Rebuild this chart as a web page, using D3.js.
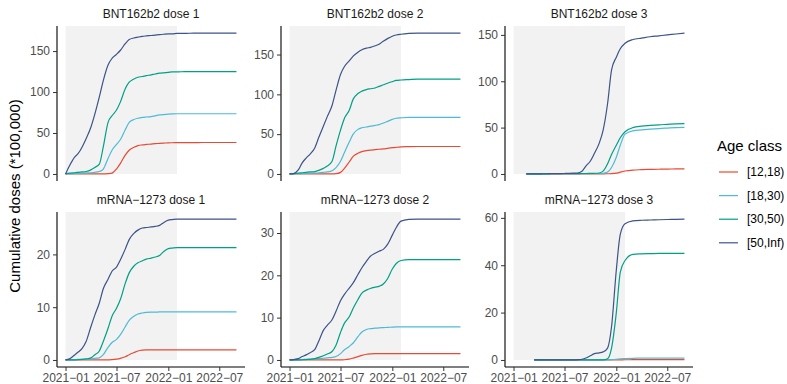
<!DOCTYPE html>
<html>
<head>
<meta charset="utf-8">
<script src="https://cdn.jsdelivr.net/npm/d3@7"></script>
<style>
  body { margin: 0; background: #fff; }
  svg text { font-family: "Liberation Sans", Arial, sans-serif; }
</style>
</head>
<body>
<div id="chart"></div>
<script>
// dates shared by all series
const dates = ["2021-01-01","2021-01-15","2021-02-01","2021-02-15","2021-03-01","2021-03-15",
  "2021-04-01","2021-04-15","2021-05-01","2021-05-15","2021-06-01","2021-06-15","2021-07-01",
  "2021-07-15","2021-08-01","2021-08-15","2021-09-01","2021-09-15","2021-10-01","2021-10-15",
  "2021-11-01","2021-11-15","2021-12-01","2021-12-15","2022-01-01","2022-01-15","2022-02-01",
  "2022-03-01","2022-04-01","2022-05-01","2022-06-01","2022-07-01","2022-08-01","2022-08-31"];

const ageClasses = ["[12,18)", "[18,30)", "[30,50)", "[50,Inf)"];
const colors = ["#E64B35", "#4DBBD5", "#00A087", "#3C5488"];
const panelTitles = ["BNT162b2 dose 1", "BNT162b2 dose 2", "BNT162b2 dose 3",
  "mRNA\u22121273 dose 1", "mRNA\u22121273 dose 2", "mRNA\u22121273 dose 3"];
const yTicks = [[0,50,100,150],[0,50,100,150],[0,50,100,150],[0,10,20],[0,10,20,30],[0,20,40,60]];
const xTicks = ["2021-01-01","2021-07-01","2022-01-01","2022-07-01"];
const shadeRange = ["2021-01-01", "2022-02-01"];

// BNT162b2 dose 1
const bnt1_a = [0,0,0,0,0,0,0,0,0,0,0.3,1,6,13,23,29,32.5,34.5,35.5,36,36.5,37,37.3,37.6,38,38.1,38.2,38.3,38.3,38.4,38.4,38.4,38.4,38.4];
const bnt1_b = [0,0.3,0.5,0.7,1,1.2,1.5,2,3,6,19,29,36,42,54,63,66.5,68,69,69.5,70,71,72,72.5,73,73.3,73.5,73.5,73.5,73.5,73.5,73.5,73.5,73.5];
const bnt1_c = [0,1,1.5,2,2.5,3,5,8,12,33,63,71,78,88,104,112,116,118,119,120,121,122,123,123.5,124,124.5,124.5,125,125,125,125,125,125,125];
const bnt1_d = [0,10,20,25,33,43,57,73,94,114,133,141,146,151,159,164,166,167,168,168.5,169,169.5,170,170.5,171,171,171.5,171.5,172,172,172,172,172,172];
// BNT162b2 dose 2
const bnt2_a = [0,0,0,0,0,0,0,0,0,0,0,0.3,2,7,15,22,26,28,29.3,30,30.5,31,31.5,32.2,33,33.5,34,34.3,34.5,34.5,34.5,34.5,34.5,34.5];
const bnt2_b = [0,0.2,0.4,0.6,0.8,1,1.2,1.5,2,2.5,4,8,16,27,40,50,56,58,59,60,61,62,64,66,68.5,70,70.5,71,71,71,71,71,71,71];
const bnt2_c = [0,0.5,1,1.5,2,2.5,3,4.5,7,10,16,35,55,70,80,94,101,104,106,107,108,110,112,114,116,117.5,118,118.5,119,119,119,119,119,119];
const bnt2_d = [0,0.5,5,14,20,25,33,46,60,72,86,105,125,135,142,148,153,156,158,159,161,163,167,170,173,174.5,175.5,176.5,177,177,177,177,177,177];
// BNT162b2 dose 3
const bnt3_a = [null,null,null,0,0,0,0,0,0,0,0,0,0,0,0,0,0,0,0,0,0,0.1,0.2,0.3,0.8,2,3.2,4.2,4.6,4.9,5.1,5.3,5.4,5.5];
const bnt3_b = [null,null,null,0,0,0,0.1,0.1,0.1,0.2,0.2,0.2,0.3,0.3,0.3,0.4,0.4,0.4,0.5,0.5,0.5,0.6,2,7,18,31,43,46.5,47.5,48.3,49,49.5,50,50.2];
const bnt3_c = [null,null,null,0,0,0,0.1,0.1,0.1,0.2,0.2,0.3,0.3,0.3,0.4,0.4,0.5,0.5,0.6,0.7,1,3,11,21,31,39,45.5,50,51.5,52.3,53,53.5,54,54.2];
const bnt3_d = [null,null,null,0,0,0.1,0.1,0.2,0.2,0.3,0.3,0.4,0.5,0.6,0.8,1,3,8.5,14,22,33,47,76,112,126,135,141,145,146.5,148,149,150,151,152];
// mRNA-1273 dose 1
const mrna1_a = [0,0,0,0,0,0,0,0,0,0,0.02,0.05,0.15,0.3,0.6,1.0,1.4,1.7,1.85,1.9,1.9,1.9,1.9,1.9,1.9,1.9,1.9,1.9,1.9,1.9,1.9,1.9,1.9,1.9];
const mrna1_b = [0,0,0.05,0.1,0.1,0.15,0.2,0.3,0.4,1,2.4,3.3,3.9,4.8,6.3,7.5,8.3,8.7,8.9,9,9.05,9.05,9.1,9.1,9.1,9.1,9.1,9.1,9.1,9.1,9.1,9.1,9.1,9.1];
const mrna1_c = [0,0,0,0.05,0.1,0.2,0.4,1,1.7,3.5,6,8.3,9.8,11.5,14.5,16.5,17.8,18.4,18.8,19.1,19.3,19.5,19.8,20.5,21.1,21.2,21.3,21.3,21.3,21.3,21.3,21.3,21.3,21.3];
const mrna1_d = [0,0.2,0.9,1.5,2.2,3.5,6.3,8.5,10.8,13.5,15.3,16.8,17.6,19,21,22.8,24,24.6,25,25.1,25.2,25.3,25.5,26,26.5,26.6,26.7,26.7,26.7,26.7,26.7,26.7,26.7,26.7];
// mRNA-1273 dose 2
const mrna2_a = [0,0,0,0,0,0,0,0,0,0,0,0,0,0.05,0.2,0.45,0.8,1.1,1.35,1.45,1.5,1.5,1.5,1.5,1.5,1.5,1.5,1.5,1.5,1.5,1.5,1.5,1.5,1.5];
const mrna2_b = [0,0,0.05,0.1,0.15,0.2,0.25,0.3,0.4,0.5,0.6,0.8,1.5,2.4,3.2,4,5.5,6.6,7.2,7.4,7.5,7.6,7.65,7.7,7.75,7.8,7.8,7.8,7.8,7.8,7.8,7.8,7.8,7.8];
const mrna2_c = [0,0,0,0.05,0.1,0.15,0.3,0.6,1,1.4,2,3.5,6.5,8.7,10.2,12.2,14.3,15.8,16.5,16.9,17.2,17.4,18,19.2,21.5,22.8,23.5,23.7,23.7,23.7,23.7,23.7,23.7,23.7];
const mrna2_d = [0,0.1,0.3,0.8,1.2,1.7,2.5,4.5,7,8.2,9.5,11.5,14,15.5,17,18.2,20.2,21.8,23.3,24.5,25.2,25.7,26.2,27.3,29.5,31.3,32.8,33.2,33.3,33.3,33.3,33.3,33.3,33.3];
// mRNA-1273 dose 3
const mrna3_a = [null,null,null,null,null,0,0,0,0,0,0,0,0,0,0,0,0,0,0,0,0,0,0,0,0.02,0.05,0.08,0.1,0.1,0.1,0.1,0.1,0.1,0.1];
const mrna3_b = [null,null,null,null,null,0,0,0,0,0,0,0,0,0,0,0,0,0,0,0,0,0,0,0.1,0.3,0.5,0.6,0.7,0.75,0.8,0.8,0.8,0.8,0.8];
const mrna3_c = [null,null,null,null,null,0,0,0,0,0,0,0,0,0,0,0,0,0,0,0,0,0,0.5,5,20,37,42,44.6,44.8,44.9,45,45,45,45];
const mrna3_d = [null,null,null,null,null,0,0,0,0,0,0,0,0,0,0,0.1,0.3,0.8,1.8,2.7,3,3.4,5,14,38,53,57.5,58.7,59,59.1,59.2,59.3,59.4,59.5];

const panelSeries = [
  [bnt1_a, bnt1_b, bnt1_c, bnt1_d],
  [bnt2_a, bnt2_b, bnt2_c, bnt2_d],
  [bnt3_a, bnt3_b, bnt3_c, bnt3_d],
  [mrna1_a, mrna1_b, mrna1_c, mrna1_d],
  [mrna2_a, mrna2_b, mrna2_c, mrna2_d],
  [mrna3_a, mrna3_b, mrna3_c, mrna3_d]
];

const width = 787, height = 384;
const colX = [57, 281, 505];
const rowY = [26, 212];
const pw = 188, ph = 155;

const parse = d3.timeParse("%Y-%m-%d");
const dts = dates.map(parse);

const svg = d3.select("#chart").append("svg")
  .attr("width", width)
  .attr("height", height);

// shared x scale, ggplot style 5% expansion
const xExt = d3.extent(dts);
const span = xExt[1] - xExt[0];
const x = d3.scaleTime()
  .domain([new Date(+xExt[0] - span * 0.05), new Date(+xExt[1] + span * 0.05)])
  .range([0, pw]);

panelSeries.forEach((series, i) => {
  const col = i % 3, row = Math.floor(i / 3);
  const g = svg.append("g")
    .attr("transform", "translate(" + colX[col] + "," + rowY[row] + ")");

  const ymax = d3.max(series, s => d3.max(s));
  const y = d3.scaleLinear()
    .domain([-ymax * 0.05, ymax * 1.05])
    .range([ph, 0]);

  // shaded period
  g.append("rect")
    .attr("x", x(parse(shadeRange[0])))
    .attr("width", x(parse(shadeRange[1])) - x(parse(shadeRange[0])))
    .attr("y", 0)
    .attr("height", y(0))
    .attr("fill", "#F2F2F2");

  const line = d3.line()
    .defined(d => d[1] !== null)
    .x(d => x(d[0]))
    .y(d => y(d[1]))
    .curve(d3.curveMonotoneX);

  series.forEach((vals, k) => {
    g.append("path")
      .datum(vals.map((v, j) => [dts[j], v]))
      .attr("fill", "none")
      .attr("stroke", colors[k])
      .attr("stroke-width", 1.2)
      .attr("d", line);
  });

  // y axis
  const ya = g.append("g")
    .call(d3.axisLeft(y).tickValues(yTicks[i]).tickSize(4).tickPadding(3));
  ya.select(".domain").attr("d", "M0,0V" + ph).attr("stroke", "#000").attr("stroke-width", 1.1);
  ya.selectAll(".tick line").attr("stroke", "#333");
  ya.selectAll("text").attr("fill", "#4D4D4D").style("font-size", "12px");

  // x axis only on bottom row
  if (row === 1) {
    const xa = g.append("g")
      .attr("transform", "translate(0," + ph + ")")
      .call(d3.axisBottom(x).tickValues(xTicks.map(parse))
        .tickFormat(d3.timeFormat("%Y\u2212%m")).tickSize(4).tickPadding(2));
    xa.select(".domain").attr("d", "M0,0H" + pw).attr("stroke", "#000").attr("stroke-width", 1.1);
    xa.selectAll(".tick line").attr("stroke", "#333");
    xa.selectAll("text").attr("fill", "#4D4D4D").style("font-size", "12px");
  }

  // strip title
  g.append("text")
    .attr("x", pw / 2)
    .attr("y", -8)
    .attr("text-anchor", "middle")
    .style("font-size", "12px")
    .attr("fill", "#1A1A1A")
    .text(panelTitles[i]);
});

// y axis title
svg.append("text")
  .attr("transform", "translate(20,196) rotate(-90)")
  .attr("text-anchor", "middle")
  .style("font-size", "15px")
  .text("Cumulative doses (*100,000)");

// legend
const legend = svg.append("g").attr("transform", "translate(717,0)");
legend.append("text")
  .attr("x", 0).attr("y", 151)
  .style("font-size", "15px")
  .text("Age class");
ageClasses.forEach((a, k) => {
  const yy = 172 + k * 23.6;
  legend.append("line")
    .attr("x1", 2).attr("x2", 21)
    .attr("y1", yy).attr("y2", yy)
    .attr("stroke", colors[k]).attr("stroke-width", 1.2);
  legend.append("text")
    .attr("x", 30).attr("y", yy + 4)
    .style("font-size", "12px")
    .text(a);
});
</script>
</body>
</html>
